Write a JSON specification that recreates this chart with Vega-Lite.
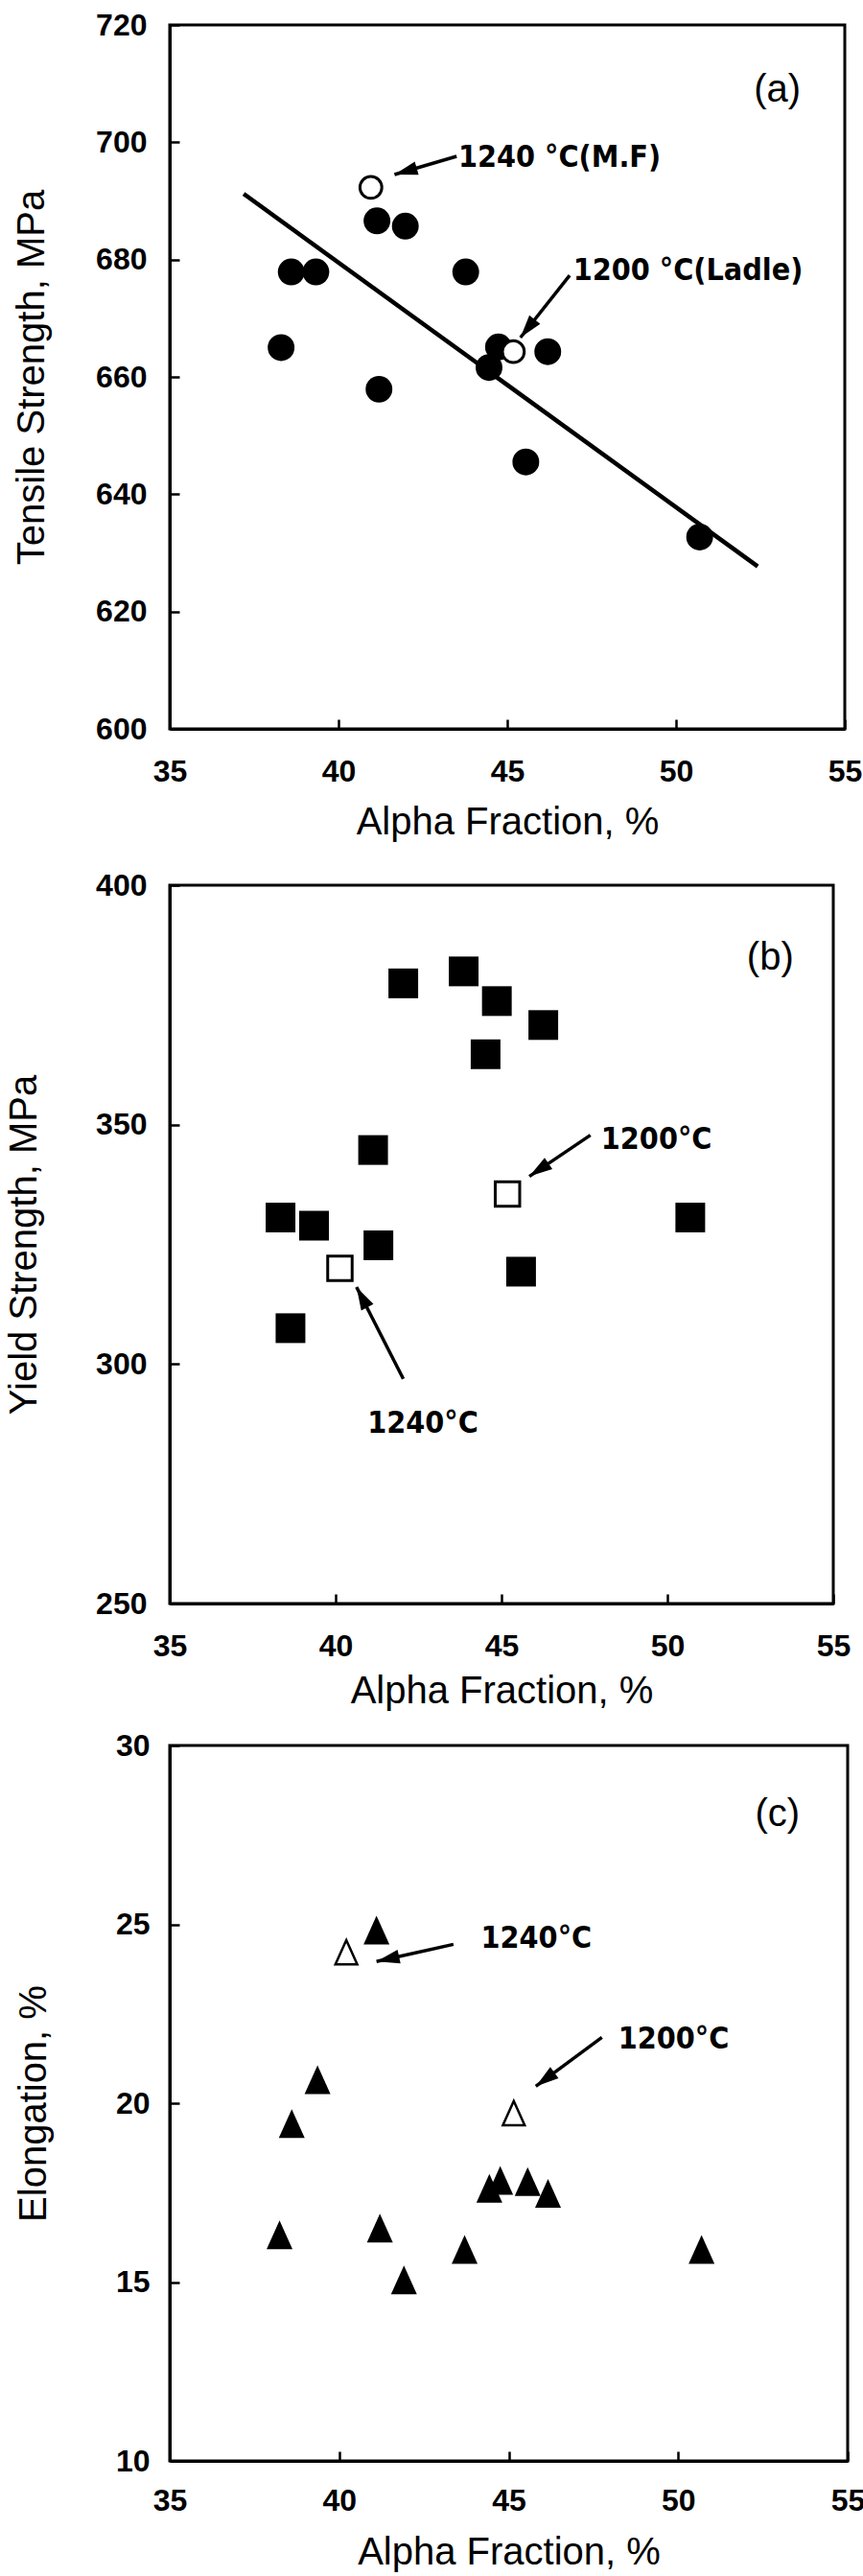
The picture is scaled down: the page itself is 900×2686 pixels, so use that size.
{
  "$schema": "https://vega.github.io/schema/vega-lite/v6.json",
  "background": "white",
  "padding": {"left": 3, "top": 8, "right": 0, "bottom": 0},
  "config": {
    "view": {"stroke": "black", "strokeWidth": 3},
    "axis": {
      "grid": false,
      "domainColor": "black", "domainWidth": 3,
      "tickColor": "black", "tickWidth": 2.5, "tickSize": -10,
      "labelFont": "Liberation Sans", "labelFontWeight": "bold", "labelFontSize": 32, "labelColor": "black",
      "titleFont": "Liberation Sans", "titleFontWeight": "normal", "titleFontSize": 40, "titleColor": "black",
      "labelFlush": false, "labelOverlap": false, "labelBound": false
    },
    "text": {"font": "Liberation Sans Narrow, DejaVu Sans Condensed, Liberation Sans", "fontWeight": "bold", "fontSize": 32, "color": "black"}
  },
  "spacing": 26,
  "vconcat": [
    {
      "width": 704, "height": 734,
      "encoding": {
        "x": {"field": "x", "type": "quantitative", "scale": {"domain": [35, 55], "nice": false, "zero": false},
              "axis": {"title": "Alpha Fraction, %", "values": [35, 40, 45, 50, 55], "format": "d", "labelPadding": 39, "titlePadding": 17}},
        "y": {"field": "y", "type": "quantitative", "scale": {"domain": [600, 720], "nice": false, "zero": false},
              "axis": {"title": "Tensile Strength, MPa", "values": [600, 620, 640, 660, 680, 700, 720], "format": "d", "labelPadding": 34, "minExtent": 77, "maxExtent": 77, "titlePadding": 47}}
      },
      "layer": [
        {"data": {"values": [{"x": 37.19, "y": 691.2}, {"x": 52.42, "y": 627.7}]},
         "mark": {"type": "line", "color": "black", "strokeWidth": 4.5}},
        {"data": {"values": [
          {"x": 41.14, "y": 686.6}, {"x": 41.98, "y": 685.7}, {"x": 38.6, "y": 677.9}, {"x": 39.33, "y": 677.9},
          {"x": 43.77, "y": 677.9}, {"x": 38.3, "y": 665.0}, {"x": 41.2, "y": 657.9}, {"x": 44.46, "y": 661.6},
          {"x": 44.74, "y": 665.1}, {"x": 46.2, "y": 664.3}, {"x": 45.55, "y": 645.5}, {"x": 50.7, "y": 632.7}]},
         "mark": {"type": "point", "shape": "circle", "filled": true, "fill": "black", "opacity": 1, "size": 780}},
        {"data": {"values": [{"x": 40.96, "y": 692.3}, {"x": 45.18, "y": 664.3}]},
         "mark": {"type": "point", "shape": "circle", "filled": false, "fill": "white", "fillOpacity": 1, "stroke": "black", "strokeWidth": 3, "opacity": 1, "size": 520}},
        {"data": {"values": [
          {"x": 43.5, "y": 697.6, "x2": 41.66, "y2": 694.5, "ang": 254},
          {"x": 46.85, "y": 677.3, "x2": 45.39, "y2": 666.7, "ang": 218.5}]},
         "layer": [
           {"mark": {"type": "rule", "color": "black", "strokeWidth": 3.5},
            "encoding": {"x2": {"field": "x2"}, "y2": {"field": "y2"}}},
           {"mark": {"type": "point", "shape": "M0,0L-0.6,2L0.6,2Z", "filled": true, "fill": "black", "opacity": 1, "size": 580, "strokeWidth": 0},
            "encoding": {"x": {"field": "x2", "type": "quantitative"}, "y": {"field": "y2", "type": "quantitative"},
                         "angle": {"field": "ang", "type": "quantitative", "scale": null}}}
         ]},
        {"data": {"values": [{"x": 43.55, "y": 697.4, "label": "1240 °C(M.F)"}, {"x": 46.95, "y": 678.2, "label": "1200 °C(Ladle)"}]},
         "mark": {"type": "text", "align": "left", "baseline": "middle"},
         "encoding": {"text": {"field": "label"}}},
        {"data": {"values": [{"x": 53.0, "y": 708.9, "label": "(a)"}]},
         "mark": {"type": "text", "align": "center", "baseline": "middle", "font": "Liberation Sans", "fontWeight": "normal", "fontSize": 40},
         "encoding": {"text": {"field": "label"}}}
      ]
    },
    {
      "spacing": 17,
      "vconcat": [
        {
          "width": 692, "height": 749,
          "encoding": {
            "x": {"field": "x", "type": "quantitative", "scale": {"domain": [35, 55], "nice": false, "zero": false},
                  "axis": {"title": "Alpha Fraction, %", "values": [35, 40, 45, 50, 55], "format": "d", "labelPadding": 39, "titlePadding": 11}},
            "y": {"field": "y", "type": "quantitative", "scale": {"domain": [250, 400], "nice": false, "zero": false},
                  "axis": {"title": "Yield Strength, MPa", "values": [250, 300, 350, 400], "format": "d", "labelPadding": 34, "minExtent": 85, "maxExtent": 85, "titlePadding": 47}}
          },
          "layer": [
            {"data": {"values": [
              {"x": 42.04, "y": 379.5}, {"x": 43.86, "y": 382.0}, {"x": 44.86, "y": 375.8}, {"x": 46.26, "y": 370.8},
              {"x": 44.52, "y": 364.7}, {"x": 41.13, "y": 344.7}, {"x": 38.34, "y": 330.6}, {"x": 39.35, "y": 328.9},
              {"x": 41.29, "y": 324.8}, {"x": 50.69, "y": 330.6}, {"x": 45.59, "y": 319.3}, {"x": 38.64, "y": 307.5}]},
             "mark": {"type": "point", "shape": "square", "filled": true, "fill": "black", "opacity": 1, "size": 960}},
            {"data": {"values": [{"x": 45.18, "y": 335.5}, {"x": 40.13, "y": 320.0}]},
             "mark": {"type": "point", "shape": "square", "filled": false, "fill": "white", "fillOpacity": 1, "stroke": "black", "strokeWidth": 3, "opacity": 1, "size": 650}},
            {"data": {"values": [
              {"x": 47.68, "y": 347.8, "x2": 45.84, "y2": 339.2, "ang": 236},
              {"x": 42.04, "y": 296.9, "x2": 40.63, "y2": 316.1, "ang": 332}]},
             "layer": [
               {"mark": {"type": "rule", "color": "black", "strokeWidth": 3.5},
                "encoding": {"x2": {"field": "x2"}, "y2": {"field": "y2"}}},
               {"mark": {"type": "point", "shape": "M0,0L-0.6,2L0.6,2Z", "filled": true, "fill": "black", "opacity": 1, "size": 580, "strokeWidth": 0},
                "encoding": {"x": {"field": "x2", "type": "quantitative"}, "y": {"field": "y2", "type": "quantitative"},
                             "angle": {"field": "ang", "type": "quantitative", "scale": null}}}
             ]},
            {"data": {"values": [{"x": 48.0, "y": 347.0, "label": "1200°C"}, {"x": 40.96, "y": 287.6, "label": "1240°C"}]},
             "mark": {"type": "text", "align": "left", "baseline": "middle"},
             "encoding": {"text": {"field": "label"}}},
            {"data": {"values": [{"x": 53.1, "y": 384.7, "label": "(b)"}]},
             "mark": {"type": "text", "align": "center", "baseline": "middle", "font": "Liberation Sans", "fontWeight": "normal", "fontSize": 40},
             "encoding": {"text": {"field": "label"}}}
          ]
        },
        {
          "width": 707, "height": 746,
          "encoding": {
            "x": {"field": "x", "type": "quantitative", "scale": {"domain": [35, 55], "nice": false, "zero": false},
                  "axis": {"title": "Alpha Fraction, %", "values": [35, 40, 45, 50, 55], "format": "d", "labelPadding": 36, "titlePadding": 18}},
            "y": {"field": "y", "type": "quantitative", "scale": {"domain": [10, 30], "nice": false, "zero": false},
                  "axis": {"title": "Elongation, %", "values": [10, 15, 20, 25, 30], "format": "d", "labelPadding": 31, "minExtent": 75, "maxExtent": 75, "titlePadding": 47}}
          },
          "layer": [
            {"data": {"values": [
              {"x": 41.1, "y": 24.84}, {"x": 39.36, "y": 20.66}, {"x": 38.6, "y": 19.43}, {"x": 44.43, "y": 17.62},
              {"x": 44.75, "y": 17.84}, {"x": 45.56, "y": 17.81}, {"x": 46.16, "y": 17.48}, {"x": 38.24, "y": 16.32},
              {"x": 41.2, "y": 16.51}, {"x": 43.7, "y": 15.91}, {"x": 41.91, "y": 15.06}, {"x": 50.69, "y": 15.91}]},
             "mark": {"type": "point", "shape": "M0,-1L-0.9,1L0.9,1Z", "filled": true, "fill": "black", "opacity": 1, "size": 900}},
            {"data": {"values": [{"x": 40.21, "y": 24.22}, {"x": 45.15, "y": 19.72}]},
             "mark": {"type": "point", "shape": "M0,-1L-0.9,1L0.9,1Z", "filled": false, "fill": "white", "fillOpacity": 1, "stroke": "black", "strokeWidth": 2.5, "opacity": 1, "size": 640}},
            {"data": {"values": [
              {"x": 43.37, "y": 24.44, "x2": 41.1, "y2": 23.96, "ang": 257.5},
              {"x": 47.75, "y": 21.84, "x2": 45.8, "y2": 20.47, "ang": 233.6}]},
             "layer": [
               {"mark": {"type": "rule", "color": "black", "strokeWidth": 3.5},
                "encoding": {"x2": {"field": "x2"}, "y2": {"field": "y2"}}},
               {"mark": {"type": "point", "shape": "M0,0L-0.6,2L0.6,2Z", "filled": true, "fill": "black", "opacity": 1, "size": 580, "strokeWidth": 0},
                "encoding": {"x": {"field": "x2", "type": "quantitative"}, "y": {"field": "y2", "type": "quantitative"},
                             "angle": {"field": "ang", "type": "quantitative", "scale": null}}}
             ]},
            {"data": {"values": [{"x": 44.18, "y": 24.62, "label": "1240°C"}, {"x": 48.23, "y": 21.8, "label": "1200°C"}]},
             "mark": {"type": "text", "align": "left", "baseline": "middle"},
             "encoding": {"text": {"field": "label"}}},
            {"data": {"values": [{"x": 52.93, "y": 28.07, "label": "(c)"}]},
             "mark": {"type": "text", "align": "center", "baseline": "middle", "font": "Liberation Sans", "fontWeight": "normal", "fontSize": 40},
             "encoding": {"text": {"field": "label"}}}
          ]
        }
      ]
    }
  ]
}
